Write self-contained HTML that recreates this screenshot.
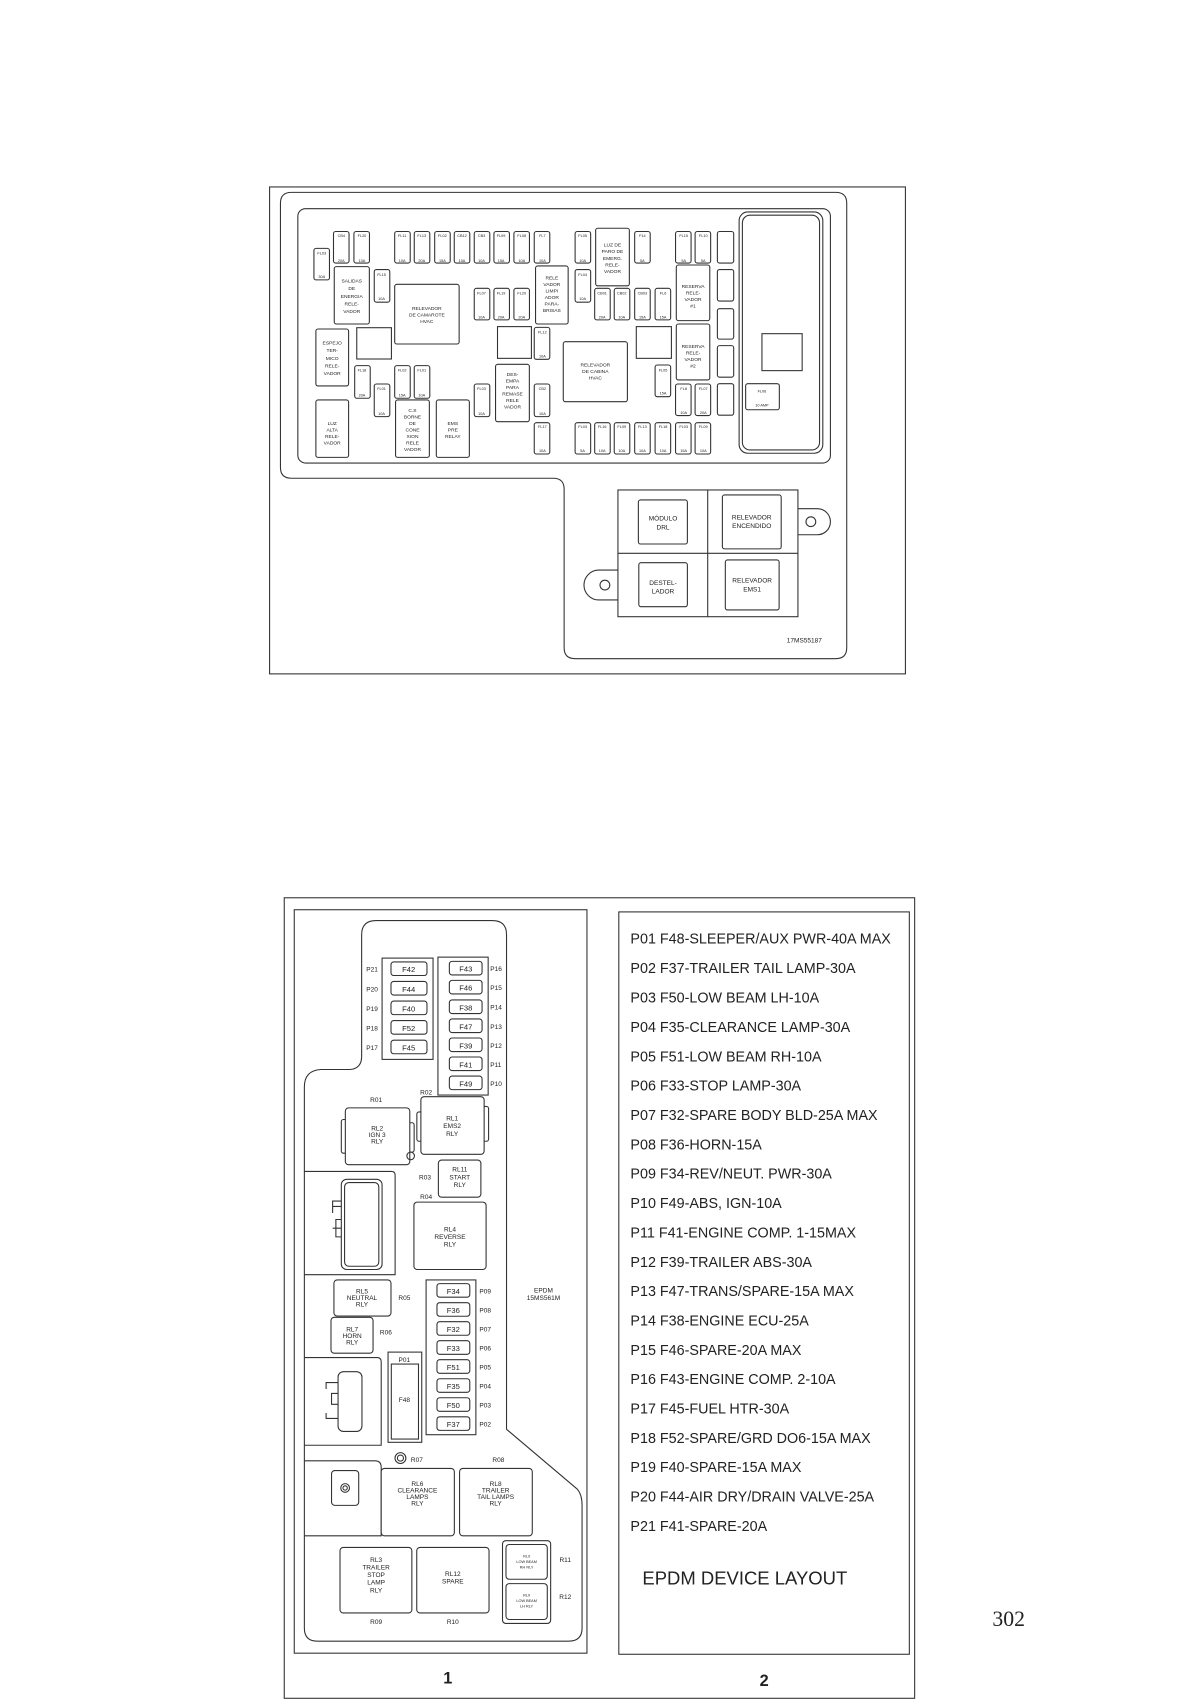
<!DOCTYPE html>
<html><head><meta charset="utf-8">
<style>
html,body{margin:0;padding:0;background:#fff;}
svg{display:block;}
text{font-family:"Liberation Sans",Arial,sans-serif;fill:#222;}
.s{fill:none;stroke:#333;stroke-width:1;}
.w{fill:#fff;stroke:#333;stroke-width:1;}
.t3{font-size:3.5px;}
.t4{font-size:4.5px;}
.t6{font-size:6px;}
.t7{font-size:7px;}
.l{font-size:13.2px;fill:#111;}
</style></head><body>
<svg width="1200" height="1701" viewBox="0 0 1104 1565" xmlns="http://www.w3.org/2000/svg">
<!-- ============ TOP DIAGRAM ============ -->
<rect x="248" y="172" width="585" height="448" class="s" stroke-width="0.9"/>
<path class="s" stroke-width="1.3" d="M268,177 H769 Q779,177 779,187 V596 Q779,606 769,606 H529 Q519,606 519,596 V450 Q519,440 509,440 H268 Q258,440 258,430 V187 Q258,177 268,177 Z"/>
<rect x="274" y="192" width="490" height="234" rx="7" class="s" stroke-width="1.3"/>
<rect x="680" y="195" width="77" height="222" rx="8" class="s" stroke-width="1.2"/>
<rect x="683" y="198" width="71" height="216" rx="7" class="s" stroke-width="0.6"/>
<rect x="701" y="307" width="37" height="34" class="s"/>
<rect x="686" y="353" width="31" height="24" rx="2" class="s"/>
<text x="701" y="361" class="t3" text-anchor="middle">FL06</text>
<text x="701" y="374" class="t3" text-anchor="middle">10 AMP</text>
<g class="s">
<rect x="660" y="213" width="15" height="29" rx="2"/>
<rect x="660" y="248" width="15" height="29" rx="2"/>
<rect x="660" y="284" width="15" height="28" rx="2"/>
<rect x="660" y="318" width="15" height="29" rx="2"/>
<rect x="660" y="353" width="15" height="29" rx="2"/>
</g>
<!-- top row fuses -->
<g class="s">
<rect x="306.8" y="213" width="14.3" height="29" rx="2"/><rect x="325.6" y="213" width="14.3" height="29" rx="2"/>
<rect x="363.1" y="213" width="14.3" height="29" rx="2"/><rect x="381.1" y="213" width="14.3" height="29" rx="2"/>
<rect x="399.9" y="213" width="14.3" height="29" rx="2"/><rect x="417.9" y="213" width="14.3" height="29" rx="2"/>
<rect x="436.3" y="213" width="14.3" height="29" rx="2"/><rect x="454.4" y="213" width="14.3" height="29" rx="2"/>
<rect x="472.8" y="213" width="14.3" height="29" rx="2"/><rect x="491.5" y="213" width="14.3" height="29" rx="2"/>
<rect x="529.1" y="213" width="14.3" height="29" rx="2"/><rect x="583.9" y="213" width="14.3" height="29" rx="2"/>
<rect x="621.5" y="213" width="14.3" height="29" rx="2"/><rect x="639.5" y="213" width="14.3" height="29" rx="2"/>
<rect x="288.8" y="228.5" width="14.3" height="29" rx="2"/>
<rect x="344.3" y="248" width="14.3" height="30" rx="2"/>
<rect x="529.1" y="248" width="14.3" height="30" rx="2"/>
<rect x="436.3" y="265.3" width="14.3" height="29" rx="2"/><rect x="454.4" y="265.3" width="14.3" height="29" rx="2"/><rect x="472.8" y="265.3" width="14.3" height="29" rx="2"/>
<rect x="547.1" y="265.3" width="14.3" height="29" rx="2"/><rect x="565.1" y="265.3" width="14.3" height="29" rx="2"/><rect x="583.9" y="265.3" width="14.3" height="29" rx="2"/><rect x="602.7" y="265.3" width="14.3" height="29" rx="2"/>
<rect x="491.5" y="301.2" width="14.3" height="29.4" rx="2"/>
<rect x="602.7" y="335.8" width="14.3" height="29.2" rx="2"/>
<rect x="621.5" y="353.3" width="14.3" height="29" rx="2"/><rect x="639.5" y="353.3" width="14.3" height="29" rx="2"/>
<rect x="326.3" y="336.4" width="14.3" height="30" rx="2"/><rect x="344.3" y="353.3" width="14.3" height="30" rx="2"/>
<rect x="363.1" y="336.4" width="14.3" height="30" rx="2"/><rect x="381.1" y="336.4" width="14.3" height="30" rx="2"/>
<rect x="436.3" y="353.3" width="14.3" height="30" rx="2"/>
<rect x="491.5" y="353.3" width="14.3" height="30" rx="2"/><rect x="491.5" y="388.9" width="14.3" height="28.8" rx="2"/>
<rect x="529.1" y="388.9" width="14.3" height="28.8" rx="2"/><rect x="547.1" y="388.9" width="14.3" height="28.8" rx="2"/>
<rect x="565.1" y="388.9" width="14.3" height="28.8" rx="2"/><rect x="583.9" y="388.9" width="14.3" height="28.8" rx="2"/>
<rect x="602.7" y="388.9" width="14.3" height="28.8" rx="2"/><rect x="621.5" y="388.9" width="14.3" height="28.8" rx="2"/>
<rect x="639.5" y="388.9" width="14.3" height="28.8" rx="2"/>
</g>
<g class="t3" text-anchor="middle">
<text x="314" y="218">CB4</text><text x="314" y="241">20A</text>
<text x="333" y="218">FL20</text><text x="333" y="241">10A</text>
<text x="370" y="218">FL11</text><text x="370" y="241">10A</text>
<text x="388" y="218">FL13</text><text x="388" y="241">20A</text>
<text x="407" y="218">FL02</text><text x="407" y="241">15A</text>
<text x="425" y="218">CB12</text><text x="425" y="241">10A</text>
<text x="443" y="218">CB3</text><text x="443" y="241">10A</text>
<text x="461" y="218">FL09</text><text x="461" y="241">15A</text>
<text x="480" y="218">FL08</text><text x="480" y="241">10A</text>
<text x="499" y="218">FL7</text><text x="499" y="241">10A</text>
<text x="536" y="218">FL05</text><text x="536" y="241">10A</text>
<text x="591" y="218">F14</text><text x="591" y="241">5A</text>
<text x="629" y="218">FL15</text><text x="629" y="241">5A</text>
<text x="647" y="218">FL10</text><text x="647" y="241">5A</text>
<text x="296" y="234">FL03</text><text x="296" y="256">30A</text>
<text x="351" y="254">FL15</text><text x="351" y="276">10A</text>
<text x="536" y="254">FL04</text><text x="536" y="276">10A</text>
<text x="443" y="271">FL07</text><text x="443" y="293">10A</text>
<text x="461" y="271">FL19</text><text x="461" y="293">20A</text>
<text x="480" y="271">FL20</text><text x="480" y="293">20A</text>
<text x="554" y="271">CB01</text><text x="554" y="293">20A</text>
<text x="572" y="271">CB02</text><text x="572" y="293">10A</text>
<text x="591" y="271">CB03</text><text x="591" y="293">15A</text>
<text x="610" y="271">FL6</text><text x="610" y="293">15A</text>
<text x="499" y="307">FL12</text><text x="499" y="329">10A</text>
<text x="610" y="342">FL05</text><text x="610" y="363">15A</text>
<text x="629" y="359">FL8</text><text x="629" y="381">10A</text>
<text x="647" y="359">FL07</text><text x="647" y="381">20A</text>
<text x="333" y="342">FL18</text><text x="333" y="365">20A</text>
<text x="351" y="359">FL01</text><text x="351" y="382">10A</text>
<text x="370" y="342">FL02</text><text x="370" y="365">15A</text>
<text x="388" y="342">FL01</text><text x="388" y="365">10A</text>
<text x="443" y="359">FL03</text><text x="443" y="382">10A</text>
<text x="499" y="359">CB2</text><text x="499" y="382">10A</text>
<text x="499" y="394">FL17</text><text x="499" y="416">10A</text>
<text x="536" y="394">FL03</text><text x="536" y="416">5A</text>
<text x="554" y="394">FL16</text><text x="554" y="416">10A</text>
<text x="572" y="394">FL09</text><text x="572" y="416">10A</text>
<text x="591" y="394">FL13</text><text x="591" y="416">10A</text>
<text x="610" y="394">FL18</text><text x="610" y="416">10A</text>
<text x="629" y="394">FL03</text><text x="629" y="416">15A</text>
<text x="647" y="394">FL09</text><text x="647" y="416">10A</text>
</g>
<!-- top relays -->
<g class="s">
<rect x="548" y="210" width="31" height="53" rx="2"/>
<rect x="307.5" y="245.3" width="32.3" height="52.8" rx="2"/>
<rect x="363.1" y="261.6" width="59.3" height="54.9" rx="2"/>
<rect x="492.7" y="244.7" width="30" height="53.4" rx="2"/>
<rect x="622.2" y="243.8" width="30.8" height="51.2" rx="2"/>
<rect x="622.2" y="298.1" width="30.8" height="51.5" rx="2"/>
<rect x="290.6" y="302.7" width="30.1" height="52.4" rx="2"/>
<rect x="328.2" y="301.5" width="31.9" height="28.8"/>
<rect x="457.7" y="300.5" width="31.2" height="29.2"/>
<rect x="518.2" y="314.4" width="59" height="55.2" rx="2"/>
<rect x="585.4" y="300.5" width="32.3" height="29.2"/>
<rect x="290.6" y="368" width="30.1" height="52.8" rx="2"/>
<rect x="363.9" y="368" width="31.1" height="52.8" rx="2"/>
<rect x="401.4" y="368" width="30.4" height="52.8" rx="2"/>
<rect x="455.9" y="335.2" width="31.1" height="52.8" rx="2"/>
</g>
<g class="t4" text-anchor="middle">
<text x="563.5" y="227">LUZ DE</text><text x="563.5" y="233">PARO DE</text><text x="563.5" y="239">EMERG.</text><text x="563.5" y="245">RELE-</text><text x="563.5" y="251">VADOR</text>
<text x="323.6" y="260">SALIDAS</text><text x="323.6" y="267">DE</text><text x="323.6" y="274">ENERGIA</text><text x="323.6" y="281">RELE-</text><text x="323.6" y="288">VADOR</text>
<text x="392.7" y="285">RELEVADOR</text><text x="392.7" y="291">DE CAMAROTE</text><text x="392.7" y="297">HVAC</text>
<text x="507.7" y="257">RELE</text><text x="507.7" y="263">VADOR</text><text x="507.7" y="269">LIMPI</text><text x="507.7" y="275">ADOR</text><text x="507.7" y="281">PARA-</text><text x="507.7" y="287">BRISAS</text>
<text x="637.6" y="265">RESERVA</text><text x="637.6" y="271">RELE-</text><text x="637.6" y="277">VADOR</text><text x="637.6" y="283">#1</text>
<text x="637.6" y="320">RESERVA</text><text x="637.6" y="326">RELE-</text><text x="637.6" y="332">VADOR</text><text x="637.6" y="338">#2</text>
<text x="305.6" y="317">ESPEJO</text><text x="305.6" y="324">TER-</text><text x="305.6" y="331">MICO</text><text x="305.6" y="338">RELE-</text><text x="305.6" y="345">VADOR</text>
<text x="547.7" y="337">RELEVADOR</text><text x="547.7" y="343">DE CABINA</text><text x="547.7" y="349">HVAC</text>
<text x="305.6" y="391">LUZ</text><text x="305.6" y="397">ALTA</text><text x="305.6" y="403">RELE-</text><text x="305.6" y="409">VADOR</text>
<text x="379.5" y="379">C.S</text><text x="379.5" y="385">BORNE</text><text x="379.5" y="391">DE</text><text x="379.5" y="397">CONE</text><text x="379.5" y="403">XION</text><text x="379.5" y="409">RELE</text><text x="379.5" y="415">VADOR</text>
<text x="416.6" y="391">EMS</text><text x="416.6" y="397">PRE</text><text x="416.6" y="403">RELAY</text>
<text x="471.5" y="346">DES-</text><text x="471.5" y="352">EMPA</text><text x="471.5" y="358">PARA</text><text x="471.5" y="364">REMASE</text><text x="471.5" y="370">RELE</text><text x="471.5" y="376">VADOR</text>
</g>
<!-- lower module -->
<path class="s" stroke-width="1.1" d="M734,468 H752 A12,12 0 0 1 752,492 H734"/>
<circle cx="746" cy="480" r="4.5" class="s"/>
<path class="s" stroke-width="1.1" d="M568.5,524.5 H551 A13.7,13.7 0 0 0 551,552 H568.5"/>
<circle cx="556.5" cy="538.3" r="4.5" class="s"/>
<rect x="568.5" y="450.8" width="165.6" height="116.6" class="s" stroke-width="1.1"/>
<line x1="651.1" y1="450.8" x2="651.1" y2="567.4" class="s" stroke-width="0.7"/>
<line x1="568.5" y1="509.1" x2="734.1" y2="509.1" class="s" stroke-width="0.7"/>
<rect x="587.3" y="460" width="45.1" height="40.5" rx="2" class="s"/>
<rect x="664.6" y="455.4" width="54.1" height="49.6" rx="2" class="s"/>
<rect x="587.7" y="517.7" width="44.7" height="40.5" rx="2" class="s"/>
<rect x="667.3" y="515.2" width="49.5" height="46" rx="2" class="s"/>
<g class="t6" text-anchor="middle">
<text x="610" y="479">MÓDULO</text><text x="610" y="487">DRL</text>
<text x="691.6" y="478">RELEVADOR</text><text x="691.6" y="486">ENCENDIDO</text>
<text x="610" y="538">DESTEL-</text><text x="610" y="546">LADOR</text>
<text x="692" y="536">RELEVADOR</text><text x="692" y="544">EMS1</text>
</g>
<text x="740" y="591" class="t6" text-anchor="middle">17MS55187</text>

<!-- ============ BOTTOM DIAGRAM ============ -->
<rect x="261.5" y="826" width="580" height="736.5" class="s" stroke-width="1.1"/>
<rect x="270.7" y="837" width="269.3" height="684" class="s" stroke-width="1.6"/>
<rect x="569.3" y="839" width="267.3" height="683" class="s" stroke-width="1.6"/>
<text x="412" y="1549" font-size="15" font-weight="bold" text-anchor="middle">1</text>
<text x="703" y="1551" font-size="15" font-weight="bold" text-anchor="middle">2</text>
<path class="s" stroke-width="1.2" d="M346,847 H453 Q466,847 466,860 V1315 L531,1370 Q535.5,1375 535.5,1385 V1498 Q535.5,1510 523,1510 H292 Q280,1510 280,1498 V1000 Q280,985 295,984 H322 Q332.7,983 332.7,972 V860 Q332.7,847 346,847 Z"/>
<!-- fuse group left -->
<rect x="351.5" y="881.5" width="46.9" height="93.2" class="s"/>
<g class="s">
<rect x="359.7" y="885" width="33.1" height="12.5" rx="2.5"/>
<rect x="359.7" y="903" width="33.1" height="12.5" rx="2.5"/>
<rect x="359.7" y="921" width="33.1" height="12.5" rx="2.5"/>
<rect x="359.7" y="939" width="33.1" height="12.5" rx="2.5"/>
<rect x="359.7" y="957" width="33.1" height="12.5" rx="2.5"/>
</g>
<g class="t7" text-anchor="middle">
<text x="376" y="894.5">F42</text><text x="376" y="912.5">F44</text><text x="376" y="930.5">F40</text><text x="376" y="948.5">F52</text><text x="376" y="966.5">F45</text>
</g>
<g class="t6">
<text x="337" y="894">P21</text><text x="337" y="912">P20</text><text x="337" y="930">P19</text><text x="337" y="948">P18</text><text x="337" y="966">P17</text>
</g>
<!-- fuse group right -->
<rect x="402.9" y="880.6" width="46.2" height="126.9" class="s"/>
<g class="s">
<rect x="413.4" y="884.5" width="30.1" height="12.5" rx="2.5"/>
<rect x="413.4" y="902" width="30.1" height="12.5" rx="2.5"/>
<rect x="413.4" y="920" width="30.1" height="12.5" rx="2.5"/>
<rect x="413.4" y="937.5" width="30.1" height="12.5" rx="2.5"/>
<rect x="413.4" y="955" width="30.1" height="12.5" rx="2.5"/>
<rect x="413.4" y="972.5" width="30.1" height="12.5" rx="2.5"/>
<rect x="413.4" y="990" width="30.1" height="12.5" rx="2.5"/>
</g>
<g class="t7" text-anchor="middle">
<text x="428.5" y="894">F43</text><text x="428.5" y="911.5">F46</text><text x="428.5" y="929.5">F38</text><text x="428.5" y="947">F47</text><text x="428.5" y="964.5">F39</text><text x="428.5" y="982">F41</text><text x="428.5" y="999.5">F49</text>
</g>
<g class="t6">
<text x="451" y="893.5">P16</text><text x="451" y="911">P15</text><text x="451" y="929">P14</text><text x="451" y="946.5">P13</text><text x="451" y="964">P12</text><text x="451" y="981.5">P11</text><text x="451" y="999">P10</text>
</g>
<!-- relays -->
<g class="t6" text-anchor="middle">
<text x="346" y="1014">R01</text><text x="392" y="1007">R02</text>
</g>
<rect x="314" y="1030" width="5" height="31" rx="2" class="s" stroke-width="0.7"/>
<rect x="376" y="1033" width="5" height="27" rx="2" class="s" stroke-width="0.7"/>
<rect x="317.7" y="1019.3" width="59.3" height="52.3" rx="3" class="w"/>
<circle cx="377.8" cy="1063.5" r="3.5" class="s"/>
<rect x="383.5" y="1023" width="5" height="27" rx="2" class="s" stroke-width="0.7"/>
<rect x="444.5" y="1018" width="5" height="32" rx="2" class="s" stroke-width="0.7"/>
<rect x="387.2" y="1009" width="58.2" height="53" rx="3" class="w"/>
<g class="t6" text-anchor="middle">
<text x="347" y="1040">RL2</text><text x="347" y="1046">IGN 3</text><text x="347" y="1052">RLY</text>
<text x="416" y="1031">RL1</text><text x="416" y="1038">EMS2</text><text x="416" y="1045">RLY</text>
<text x="391" y="1085">R03</text><text x="392" y="1103">R04</text>
<text x="423" y="1078">RL11</text><text x="423" y="1085">START</text><text x="423" y="1092">RLY</text>
<text x="414" y="1133">RL4</text><text x="414" y="1140">REVERSE</text><text x="414" y="1147">RLY</text>
</g>
<rect x="403.3" y="1067.3" width="39.1" height="34.2" rx="3" class="s"/>
<rect x="380.8" y="1106" width="66.4" height="62" rx="3" class="s"/>
<!-- connector 1 -->
<path class="s" d="M280,1077.8 H360 Q363.5,1077.8 363.5,1081 V1172.8 H280"/>
<rect x="314" y="1085" width="37.5" height="83" rx="5" class="s" stroke-width="1.2"/>
<rect x="317" y="1088" width="31.5" height="77" rx="4" class="s" stroke-width="0.6"/>
<path class="s" d="M314,1105 H306 V1116 M306,1110 H314 M306,1130 H314 M314,1122 H309 V1138 H314"/>
<rect x="307.2" y="1177.6" width="52.5" height="33.2" rx="3" class="s"/>
<rect x="304.5" y="1212" width="38.7" height="33" rx="3" class="s"/>
<g class="t6" text-anchor="middle">
<text x="333" y="1190">RL5</text><text x="333" y="1196">NEUTRAL</text><text x="333" y="1202">RLY</text>
<text x="372" y="1196">R05</text>
<text x="324" y="1225">RL7</text><text x="324" y="1231">HORN</text><text x="324" y="1237">RLY</text>
<text x="355" y="1228">R06</text>
</g>
<!-- connector 2 -->
<path class="s" d="M280,1249 H347 Q350.7,1249 350.7,1253 V1329.7 H280"/>
<rect x="311" y="1262" width="22" height="55" rx="5" class="s" stroke-width="1.2"/>
<path class="s" d="M311,1272 H300 V1278 M311,1282 H305 V1292 H311 M311,1305 H300 V1300"/>
<!-- P01 -->
<rect x="357" y="1244" width="31" height="83" class="s"/>
<rect x="360" y="1255" width="25" height="69" class="s" stroke-width="0.7"/>
<text x="372" y="1253" class="t6" text-anchor="middle">P01</text>
<text x="372" y="1290" class="t6" text-anchor="middle">F48</text>
<!-- bottom fuse group -->
<rect x="392" y="1177.6" width="45.8" height="142.4" class="s"/>
<g class="s">
<rect x="402" y="1181" width="30.2" height="12.5" rx="2.5"/>
<rect x="402" y="1198.5" width="30.2" height="12.5" rx="2.5"/>
<rect x="402" y="1216" width="30.2" height="12.5" rx="2.5"/>
<rect x="402" y="1233.5" width="30.2" height="12.5" rx="2.5"/>
<rect x="402" y="1251" width="30.2" height="12.5" rx="2.5"/>
<rect x="402" y="1268.5" width="30.2" height="12.5" rx="2.5"/>
<rect x="402" y="1286" width="30.2" height="12.5" rx="2.5"/>
<rect x="402" y="1303.5" width="30.2" height="12.5" rx="2.5"/>
</g>
<g class="t7" text-anchor="middle">
<text x="417" y="1190.5">F34</text><text x="417" y="1208">F36</text><text x="417" y="1225.5">F32</text><text x="417" y="1243">F33</text><text x="417" y="1260.5">F51</text><text x="417" y="1278">F35</text><text x="417" y="1295.5">F50</text><text x="417" y="1313">F37</text>
</g>
<g class="t6">
<text x="441" y="1190">P09</text><text x="441" y="1207.5">P08</text><text x="441" y="1225">P07</text><text x="441" y="1242.5">P06</text><text x="441" y="1260">P05</text><text x="441" y="1277.5">P04</text><text x="441" y="1295">P03</text><text x="441" y="1312.5">P02</text>
</g>
<text x="500" y="1189" class="t6" text-anchor="middle">EPDM</text>
<text x="500" y="1196" class="t6" text-anchor="middle">15MS561M</text>
<!-- R07 etc -->
<circle cx="368.4" cy="1341.5" r="5" class="s"/><circle cx="368.4" cy="1341.5" r="2.8" class="s"/>
<text x="378" y="1345" class="t6">R07</text>
<text x="458.5" y="1345" class="t6" text-anchor="middle">R08</text>
<path class="s" d="M280,1344 H345 Q350.7,1344 350.7,1350 V1413 H280"/>
<rect x="305" y="1353" width="25" height="32" rx="3" class="s" stroke-width="1.2"/>
<circle cx="317.5" cy="1369" r="4" class="s"/><circle cx="317.5" cy="1369" r="2" class="s"/>
<rect x="350.7" y="1351" width="67.3" height="62" rx="3" class="w"/>
<rect x="422.8" y="1351" width="66.9" height="62" rx="3" class="s"/>
<rect x="312.8" y="1423.7" width="66.1" height="60.3" rx="3" class="s"/>
<rect x="383.4" y="1423.7" width="66.5" height="60.3" rx="3" class="s"/>
<rect x="462.3" y="1417.5" width="44.3" height="76.1" rx="3" class="s" stroke-width="1.2"/>
<rect x="465.5" y="1421" width="38" height="32" rx="3" class="s"/>
<rect x="465.5" y="1457" width="38" height="33" rx="3" class="s"/>
<g class="t6" text-anchor="middle">
<text x="384" y="1367">RL6</text><text x="384" y="1373">CLEARANCE</text><text x="384" y="1379">LAMPS</text><text x="384" y="1385">RLY</text>
<text x="456" y="1367">RL8</text><text x="456" y="1373">TRAILER</text><text x="456" y="1379">TAIL LAMPS</text><text x="456" y="1385">RLY</text>
<text x="346" y="1437">RL3</text><text x="346" y="1444">TRAILER</text><text x="346" y="1451">STOP</text><text x="346" y="1458">LAMP</text><text x="346" y="1465">RLY</text>
<text x="416.6" y="1450">RL12</text><text x="416.6" y="1457">SPARE</text>
<text x="346" y="1494">R09</text><text x="416.6" y="1494">R10</text>
<text x="520" y="1437">R11</text><text x="520" y="1471">R12</text>
</g>
<g class="t3" text-anchor="middle">
<text x="484.5" y="1433">RL9</text><text x="484.5" y="1438">LOW BEAM</text><text x="484.5" y="1443">RH RLY</text>
<text x="484.5" y="1469">RL9</text><text x="484.5" y="1474">LOW BEAM</text><text x="484.5" y="1479">LH RLY</text>
</g>
<!-- list -->
<g class="l">
<text x="580" y="868">P01 F48-SLEEPER/AUX PWR-40A MAX</text>
<text x="580" y="895">P02 F37-TRAILER TAIL LAMP-30A</text>
<text x="580" y="922.5">P03 F50-LOW BEAM LH-10A</text>
<text x="580" y="949.5">P04 F35-CLEARANCE LAMP-30A</text>
<text x="580" y="976.5">P05 F51-LOW BEAM RH-10A</text>
<text x="580" y="1003.5">P06 F33-STOP LAMP-30A</text>
<text x="580" y="1030.5">P07 F32-SPARE BODY BLD-25A MAX</text>
<text x="580" y="1057.5">P08 F36-HORN-15A</text>
<text x="580" y="1084.5">P09 F34-REV/NEUT. PWR-30A</text>
<text x="580" y="1111.5">P10 F49-ABS, IGN-10A</text>
<text x="580" y="1138.5">P11 F41-ENGINE COMP. 1-15MAX</text>
<text x="580" y="1165.5">P12 F39-TRAILER ABS-30A</text>
<text x="580" y="1192.5">P13 F47-TRANS/SPARE-15A MAX</text>
<text x="580" y="1219.5">P14 F38-ENGINE ECU-25A</text>
<text x="580" y="1246.5">P15 F46-SPARE-20A MAX</text>
<text x="580" y="1273.5">P16 F43-ENGINE COMP. 2-10A</text>
<text x="580" y="1300.5">P17 F45-FUEL HTR-30A</text>
<text x="580" y="1327.5">P18 F52-SPARE/GRD DO6-15A MAX</text>
<text x="580" y="1354.5">P19 F40-SPARE-15A MAX</text>
<text x="580" y="1381.5">P20 F44-AIR DRY/DRAIN VALVE-25A</text>
<text x="580" y="1408.5">P21 F41-SPARE-20A</text>
</g>
<text x="591" y="1458" font-size="17" fill="#111">EPDM DEVICE LAYOUT</text>
<text x="913" y="1496" font-family="Liberation Serif,serif" font-size="20" style="font-family:'Liberation Serif',serif">302</text>
</svg>
</body></html>
